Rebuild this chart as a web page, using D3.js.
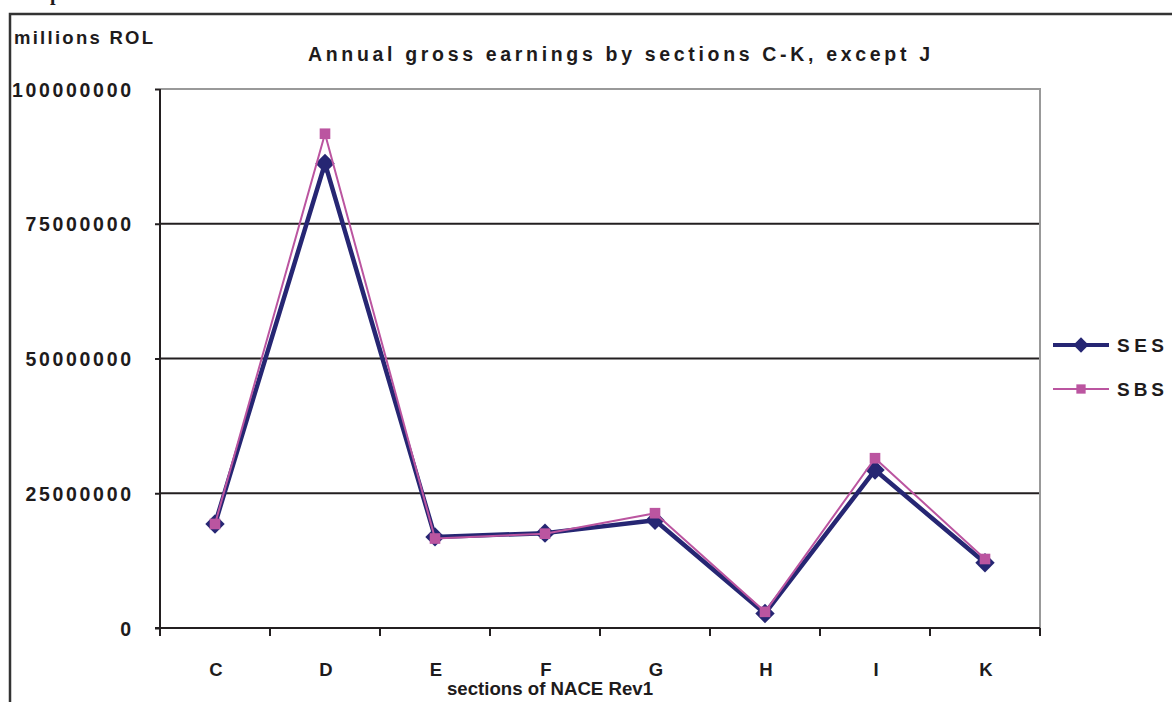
<!DOCTYPE html>
<html>
<head>
<meta charset="utf-8">
<script src="https://cdn.jsdelivr.net/npm/d3@7"></script>
<style>
  body { margin: 0; background: #fff; }
  svg { display: block; }
  text { font-family: "Liberation Sans", Arial, sans-serif; font-weight: bold; fill: #1e1b1c; }
</style>
</head>
<body>
<svg id="chart" width="1172" height="702"></svg>
<script>
// NACE Rev1 sections (C-K, except J)
const sections = ["C", "D", "E", "F", "G", "H", "I", "K"];
// Annual gross earnings, millions ROL
const sesValues = [19300000, 86200000, 16900000, 17600000, 20000000, 2700000, 29300000, 12100000];
const sbsValues = [19300000, 91700000, 16600000, 17500000, 21300000, 3000000, 31500000, 12800000];
const yTicks = [0, 25000000, 50000000, 75000000, 100000000];
const seriesNames = ["SES", "SBS"];

const svg = d3.select("#chart");
const ink = "#231f20";
const sesColor = "#262673";
const sbsColor = "#bb55a0";

const plot = { left: 160, right: 1040, top: 89, bottom: 628 };

const x = d3.scaleBand().domain(sections).range([plot.left, plot.right]);
const y = d3.scaleLinear().domain([0, 100000000]).range([plot.bottom, plot.top]);

// outer frame (left and top edges)
svg.append("path")
  .attr("d", d3.line()([[10, 702], [10, 14], [1172, 14]]))
  .attr("fill", "none").attr("stroke", "#333").attr("stroke-width", 2.5);

// cut-off heading glyph above the frame
svg.append("text").attr("x", 50).attr("y", 0)
  .style("font-family", "'Liberation Serif', serif").style("font-size", "20px")
  .text("p");

// horizontal gridlines
svg.append("g").selectAll("line")
  .data(yTicks.filter(v => v > 0 && v < 100000000))
  .join("line")
  .attr("x1", plot.left).attr("x2", plot.right)
  .attr("y1", d => y(d)).attr("y2", d => y(d))
  .attr("stroke", ink).attr("stroke-width", 2);

// plot area border (top and right)
svg.append("path")
  .attr("d", d3.line()([[plot.left, y(100000000)], [plot.right, y(100000000)], [plot.right, y(0)]]))
  .attr("fill", "none").attr("stroke", "#999").attr("stroke-width", 2);

// y axis
const digitAdvance = 13.5;
const yAxis = svg.append("g")
  .attr("transform", `translate(${plot.left},0)`)
  .call(d3.axisLeft(y).tickValues(yTicks).tickSize(5).tickSizeOuter(0).tickPadding(24)
    .tickFormat(d3.format("d")));
yAxis.select(".domain").remove();
yAxis.selectAll(".tick line").attr("stroke", ink).attr("stroke-width", 2);
yAxis.selectAll(".tick text")
  .attr("fill", "#1e1b1c").attr("dy", "0.36em")
  .attr("textLength", function () { return this.textContent.length * digitAdvance - 2.5; })
  .attr("lengthAdjust", "spacing")
  .style("font-size", "19.5px")
  .style("font-family", "'Liberation Sans', Arial, sans-serif").style("font-weight", "bold");

// left axis line
svg.append("line")
  .attr("x1", plot.left).attr("x2", plot.left)
  .attr("y1", plot.top).attr("y2", plot.bottom + 8)
  .attr("stroke", ink).attr("stroke-width", 2);

// x axis line
svg.append("line")
  .attr("x1", plot.left - 5).attr("x2", plot.right)
  .attr("y1", plot.bottom).attr("y2", plot.bottom)
  .attr("stroke", ink).attr("stroke-width", 2);

// category boundary ticks
const boundaries = sections.map(s => x(s)).concat([x(sections[sections.length - 1]) + x.bandwidth()]);
svg.append("g").selectAll("line")
  .data(boundaries)
  .join("line")
  .attr("x1", d => d).attr("x2", d => d)
  .attr("y1", plot.bottom).attr("y2", plot.bottom + 8)
  .attr("stroke", ink).attr("stroke-width", 2);

// category labels
svg.append("g").selectAll("text")
  .data(sections)
  .join("text")
  .attr("x", d => x(d) + x.bandwidth() / 2 + 1)
  .attr("y", 676)
  .attr("text-anchor", "middle")
  .style("font-size", "18.5px")
  .text(d => d);

// axis titles and chart title
svg.append("text").attr("x", 14).attr("y", 44)
  .attr("textLength", 139).attr("lengthAdjust", "spacing")
  .style("font-size", "18.5px")
  .text("millions ROL");

svg.append("text").attr("x", 308).attr("y", 61)
  .attr("textLength", 622).attr("lengthAdjust", "spacing")
  .style("font-size", "19.5px")
  .text("Annual gross earnings by sections C-K, except J");

svg.append("text").attr("x", 447).attr("y", 695)
  .attr("textLength", 206).attr("lengthAdjust", "spacingAndGlyphs")
  .style("font-size", "18.5px")
  .text("sections of NACE Rev1");

// series
const line = d3.line().x((d, i) => x(sections[i]) + x.bandwidth() / 2).y(d => y(d));
const diamond = d3.symbol().type(d3.symbolDiamond2);
const square = d3.symbol().type(d3.symbolSquare2);

function drawSeries(values, color, width, shape, size) {
  const g = svg.append("g");
  g.append("path").datum(values)
    .attr("d", line).attr("fill", "none")
    .attr("stroke", color).attr("stroke-width", width).attr("stroke-linejoin", "round");
  g.selectAll("path.m").data(values).join("path").attr("class", "m")
    .attr("transform", (d, i) => `translate(${x(sections[i]) + x.bandwidth() / 2},${y(d)})`)
    .attr("d", shape.size(size)())
    .attr("fill", color);
}
drawSeries(sesValues, sesColor, 4.5, diamond, 240);
drawSeries(sbsValues, sbsColor, 2, square, 144);

// legend
const legend = svg.append("g");
const legendRows = [
  { name: seriesNames[0], color: sesColor, width: 4, shape: diamond, size: 150, y: 345 },
  { name: seriesNames[1], color: sbsColor, width: 2, shape: square, size: 110, y: 389 }
];
legendRows.forEach(r => {
  legend.append("line").attr("x1", 1053).attr("x2", 1109).attr("y1", r.y).attr("y2", r.y)
    .attr("stroke", r.color).attr("stroke-width", r.width);
  legend.append("path").attr("transform", `translate(1081,${r.y})`)
    .attr("d", r.shape.size(r.size)()).attr("fill", r.color);
  legend.append("text").attr("x", 1117).attr("y", r.y + 7)
    .attr("textLength", 47).attr("lengthAdjust", "spacing")
    .style("font-size", "19px")
    .text(r.name);
});
</script>
</body>
</html>
